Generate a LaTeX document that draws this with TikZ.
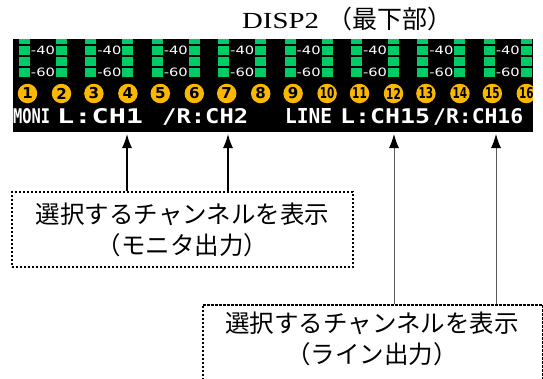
\documentclass[tikz,border=0pt]{standalone}
\usepackage{fontspec}
\setmainfont{Liberation Serif}
\newfontfamily\jpfont{Noto Sans CJK JP}
\newfontfamily\panelfont{DejaVu Sans Mono}
\newfontfamily\numfont{DejaVu Sans}
\usetikzlibrary{arrows.meta}

\definecolor{metergreen}{RGB}{0,204,102}
\definecolor{chorange}{RGB}{250,184,0}
\definecolor{linegray}{RGB}{90,90,90}

\newcommand{\paneltext}[2]{\resizebox{#1pt}{15pt}{\panelfont\bfseries #2}}
\newcommand{\dblabel}[1]{\resizebox{24pt}{8.5pt}{\numfont #1}}

\begin{document}
\begin{tikzpicture}[x=1pt,y=-1pt,
    seg/.style={fill=metergreen},
    chnum/.style={circle,fill=chorange,inner sep=0pt,minimum size=19.5pt,
                  font=\numfont\bfseries\fontsize{15}{15}\selectfont},
    infobox/.style={draw,line width=1.6pt,dash pattern=on 2.4pt off 1.6pt,inner sep=0pt},
    boxtext/.style={align=center,inner sep=0pt,font=\jpfont\fontsize{24.5}{31}\selectfont},
    pick/.style={-{Latex[length=14pt,width=10pt]},line width=1.3pt}]
  \useasboundingbox (0,0) rectangle (543,378);
  \clip (0,0) rectangle (543,378);

  % title
  \node[anchor=base west,inner sep=0pt] (title) at (242,28)
    {\fontsize{23}{23}\selectfont\scalebox{1.25}[1]{DISP2}\hspace{9pt}{\jpfont\fontsize{25}{25}\selectfont （最下部）}};

  % display panel
  \node[fill=black,anchor=north west,inner sep=0pt,minimum width=520pt,minimum height=93pt] (panel) at (13,39) {};

  \begin{scope}
    \clip (13,39) rectangle (533,132);
    \foreach \k in {0,...,7}{
      \pgfmathsetmacro{\px}{19+66.4*\k}
      \pgfmathtruncatemacro{\na}{2*\k+1}
      \pgfmathtruncatemacro{\nb}{2*\k+2}
      \foreach \dy in {34.5,45.5,56.5,67.5}{
        \fill[seg] (\px,\dy) rectangle ++(11,9);
        \fill[seg] (\px+37,\dy) rectangle ++(11,9);
      }
      \node[white,inner sep=0pt] (dbA\k) at (\px+24,50) {\dblabel{-40}};
      \node[white,inner sep=0pt] (dbB\k) at (\px+24,72) {\dblabel{-60}};
      \node[chnum] (num\na) at (\px+8.5,93.5)
        {\ifnum\na<10 \na\else\scalebox{0.7}[1]{\na}\fi};
      \node[chnum] (num\nb) at (\px+42.5,93.5)
        {\ifnum\nb<10 \nb\else\scalebox{0.7}[1]{\nb}\fi};
    }
  \end{scope}

  % channel texts
  \begin{scope}[every node/.style={anchor=base west,inner sep=0pt,text=white}]
    \node (moni)  at (13,123)  {\paneltext{37}{MONI}};
    \node (moniL) at (57,123)  {\paneltext{86}{L:CH1}};
    \node (moniR) at (162,123) {\paneltext{86}{/R:CH2}};
    \node (line)  at (285,123) {\paneltext{47}{LINE}};
    \node (lineL) at (340,123) {\paneltext{90}{L:CH15}};
    \node (lineR) at (433,123) {\paneltext{90}{/R:CH16}};
  \end{scope}

  % boxes
  \node[infobox,boxtext,minimum width=341pt,minimum height=75pt] (moniBox) at (182.5,229.5)
    {選択するチャンネルを表示\\（モニタ出力）};
  \node[infobox,minimum width=340pt,minimum height=95pt,anchor=north west] (lineBox) at (202,304) {};
  \node[boxtext] (lineText) at (372,339) {選択するチャンネルを表示\\（ライン出力）};

  % arrows
  \coordinate (tipMoniL) at (127,134);
  \coordinate (tipMoniR) at (228,134);
  \coordinate (tipLineL) at (394,134);
  \coordinate (tipLineR) at (496,134);
  \draw[pick] (moniBox.north -| tipMoniL) -- (tipMoniL);
  \draw[pick] (moniBox.north -| tipMoniR) -- (tipMoniR);
  \draw[pick,-{Latex[length=14pt,width=10pt,black]},draw=linegray,line width=1pt] (lineBox.north -| tipLineL) -- (tipLineL);
  \draw[pick,-{Latex[length=14pt,width=10pt,black]},draw=linegray,line width=1pt] (lineBox.north -| tipLineR) -- (tipLineR);
\end{tikzpicture}
\end{document}
